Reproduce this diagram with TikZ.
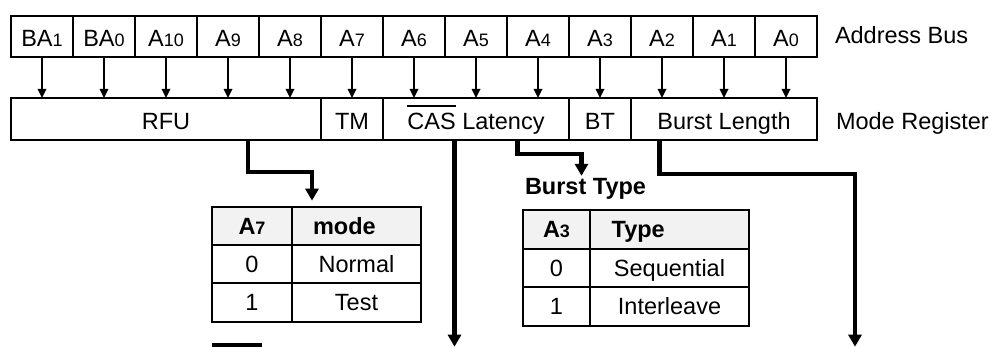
\documentclass[tikz,border=0pt]{standalone}
\usepackage{fontspec}
\setmainfont{Liberation Sans}
\usetikzlibrary{arrows.meta}
\definecolor{hdrgray}{RGB}{242,242,242}
\newcommand\dsub[1]{{\fontsize{18}{20}\selectfont #1}}
\newcommand\myovl[1]{\setbox0\hbox{#1}\rlap{\rule[22.7pt]{\wd0}{1.6pt}}\box0\relax}
\begin{document}
\begin{tikzpicture}[x=1pt,y=-1pt,
  every node/.style={font=\fontsize{23.5}{28}\selectfont, inner sep=0pt, outer sep=0pt},
  cell/.style={draw, line width=1.8pt, text height=21pt, text depth=0pt},
  buscell/.style={cell, minimum width=62pt, minimum height=41pt},
  regcell/.style={cell, minimum height=42pt},
  tcell/.style={draw, line width=1.8pt, text height=16.8pt, text depth=0pt},
  hdr/.style={tcell, fill=hdrgray, font=\fontsize{23.5}{28}\selectfont\bfseries},
  thinarrow/.style={line width=1.7pt, -{Triangle[length=9pt,width=8.5pt]}},
  thk/.style={line width=4.3pt},
  thkarrow/.style={thk, -{Triangle[length=12pt,width=13pt]}},
  lbl/.style={anchor=base west}
]
\useasboundingbox (0,0) rectangle (991,347);

% Address bus
\foreach \t [count=\i from 0] in {BA\dsub1, BA\dsub0, A\dsub{10}, A\dsub9, A\dsub8, A\dsub7, A\dsub6, A\dsub5, A\dsub4, A\dsub3, A\dsub2, A\dsub1, A\dsub0}
  \node[buscell] (ab\i) at (42+62*\i, 36.5) {\t};

% Mode register
\node[regcell, minimum width=310pt] (rfu) at (166,119) {RFU};
\node[regcell, minimum width=62pt]  (tm)  at (352,119) {TM};
\node[regcell, minimum width=186pt] (cas) at (476,119) {\myovl{CAS} Latency};
\node[regcell, minimum width=62pt]  (bt)  at (600,119) {BT};
\node[regcell, minimum width=186pt] (bl)  at (724,119) {Burst Length};

% thin arrows
\foreach \i in {0,...,12}
  \draw[thinarrow] (ab\i.south) -- (ab\i.south |- rfu.north);

% side labels
\node[lbl] (labus) at (835,43.3) {Address Bus};
\node[lbl] (lareg) at (836,129.3) {Mode Register};

% Table 1 (test mode)
\node[hdr, minimum width=80pt, minimum height=38pt] (t1h1) at (252,226) {A\dsub7};
\node[hdr, minimum width=129pt, minimum height=38pt] (t1h2) at (356.5,226) {\makebox[129pt][l]{\hspace*{21pt}mode}};
\node[tcell, minimum width=80pt, minimum height=38pt] (t1a1) at (252,264) {0};
\node[tcell, minimum width=129pt, minimum height=38pt] (t1a2) at (356.5,264) {Normal};
\node[tcell, minimum width=80pt, minimum height=39pt] (t1b1) at (252,302.5) {1};
\node[tcell, minimum width=129pt, minimum height=39pt] (t1b2) at (356.5,302.5) {Test};

% Table 2 (burst type)
\node[anchor=base west, font=\fontsize{23.5}{28}\selectfont\bfseries] (bttitle) at (525,195) {Burst Type};
\node[hdr, minimum width=67pt, minimum height=39pt] (t2h1) at (556.5,229.5) {A\dsub3};
\node[hdr, minimum width=159pt, minimum height=39pt] (t2h2) at (669.5,229.5) {\makebox[159pt][l]{\hspace*{21.7pt}Type}};
\node[tcell, minimum width=67pt, minimum height=38pt] (t2a1) at (556.5,268) {0};
\node[tcell, minimum width=159pt, minimum height=38pt] (t2a2) at (669.5,268) {Sequential};
\node[tcell, minimum width=67pt, minimum height=39pt] (t2b1) at (556.5,306.5) {1};
\node[tcell, minimum width=159pt, minimum height=39pt] (t2b2) at (669.5,306.5) {Interleave};

% free ends
\coordinate (casend) at (454.5,346.7);
\coordinate (blend) at (855,346.7);
\coordinate (barl) at (211.7,345);
\coordinate (barr) at (261.7,345);

% thick connectors
\draw[thkarrow] ([xshift=81.7pt]rfu.south) -- ++(0,31.7) -| ([shift={(20pt,6.3pt)}]t1h2.north west);
\draw[thkarrow] ([xshift=-21.5pt]cas.south) -- (casend);
\draw[thkarrow] ([xshift=41.5pt]cas.south) -- ++(0,14) -| ([shift={(-4pt,3pt)}]bttitle.north);
\draw[thkarrow] ([xshift=-64.5pt]bl.south) -- ++(0,34.3) -| (blend);
\draw[line width=3.8pt] (barl) -- (barr);
\end{tikzpicture}
\end{document}
